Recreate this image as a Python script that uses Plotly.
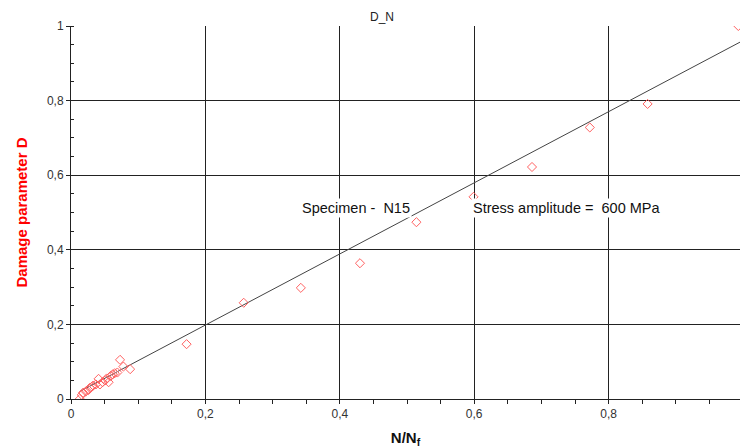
import plotly.graph_objects as go

# Measured damage parameter D versus life fraction N/Nf
life_fraction = [0.013, 0.016, 0.018, 0.022, 0.026, 0.028, 0.031, 0.033, 0.037, 0.041,
                 0.043, 0.047, 0.051, 0.053, 0.056, 0.059, 0.062, 0.065, 0.069, 0.073,
                 0.078, 0.088, 0.172, 0.257, 0.342, 0.430, 0.514, 0.599, 0.686, 0.772,
                 0.858, 0.993]
damage = [0.000, 0.011, 0.017, 0.020, 0.024, 0.030, 0.033, 0.036, 0.039, 0.054,
          0.039, 0.045, 0.050, 0.055, 0.045, 0.062, 0.066, 0.069, 0.071, 0.105,
          0.087, 0.080, 0.147, 0.258, 0.298, 0.364, 0.474, 0.542, 0.622, 0.728,
          0.791, 1.000]

# Linear trend line end points
trend_x = [0.013, 1.0]
trend_y = [0.020, 0.961]

x_ticks = [0, 0.2, 0.4, 0.6, 0.8]
y_ticks = [0, 0.2, 0.4, 0.6, 0.8, 1.0]

tick_font = dict(family="Liberation Sans Narrow, Arial Narrow, Liberation Sans, Arial",
                 size=12, color="#333333")
note_font = dict(family="Liberation Sans, Arial", size=14.5, color="#111111")

fig = go.Figure()
fig.add_trace(go.Scatter(
    x=trend_x, y=trend_y, mode="lines",
    line=dict(color="#444444", width=1), showlegend=False, hoverinfo="skip"))
fig.add_trace(go.Scatter(
    x=life_fraction, y=damage, mode="markers",
    marker=dict(symbol="diamond-open", size=7, color="#ff6060", line=dict(width=1)),
    showlegend=False))

fig.add_annotation(x=0.341, y=0.512, xref="x", yref="y", xanchor="left", yanchor="middle",
                   text="Specimen - \u00a0N15", showarrow=False, bgcolor="white",
                   font=note_font)
fig.add_annotation(x=0.595, y=0.512, xref="x", yref="y", xanchor="left", yanchor="middle",
                   text="Stress amplitude = \u00a0600 MPa", showarrow=False, bgcolor="white",
                   font=note_font)

fig.update_layout(
    width=740, height=448,
    margin=dict(l=71, r=0, t=26, b=49),
    paper_bgcolor="white", plot_bgcolor="white",
    separators=",.",
    title=dict(text="D_N", x=382 / 740, xanchor="center", y=1 - 17 / 448, yanchor="middle",
               font=dict(family="Liberation Sans, Arial", size=12, color="#222222")),
    xaxis=dict(
        range=[0, 0.9955], tickvals=x_ticks, ticks="outside", ticklen=4,
        tickcolor="#222222", showline=True, linecolor="#222222", linewidth=1,
        showgrid=True, gridcolor="#222222", gridwidth=1, zeroline=False,
        minor=dict(dtick=0.05, ticks="outside", ticklen=4, tickcolor="#222222", showgrid=False),
        tickfont=tick_font,
        title=dict(text="<b>N/N<sub>f</sub></b>", standoff=12,
                   font=dict(family="Liberation Sans, Arial", size=15, color="#111111")),
    ),
    yaxis=dict(
        range=[0, 1.0], tickvals=y_ticks, ticks="outside", ticklen=4,
        tickcolor="#222222", showline=True, linecolor="#222222", linewidth=1,
        showgrid=True, gridcolor="#222222", gridwidth=1, zeroline=False,
        minor=dict(dtick=0.05, ticks="inside", ticklen=3, tickcolor="#222222", showgrid=False),
        tickfont=tick_font,
        title=dict(text="<b>Damage parameter D</b>", standoff=15,
                   font=dict(family="Liberation Sans, Arial", size=15, color="#ff0000")),
    ),
)

fig.write_html("out.html")
